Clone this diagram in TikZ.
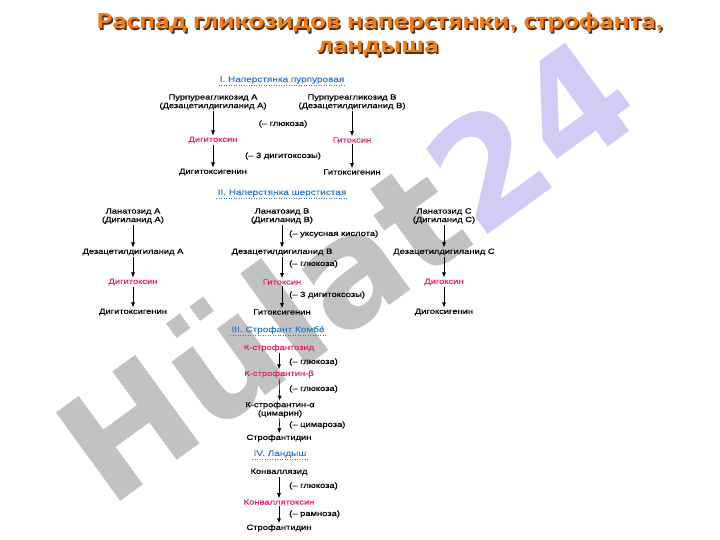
\documentclass[tikz,border=0pt]{standalone}
\usepackage{fontspec}
\setmainfont{Liberation Sans}
\newfontfamily\df{Liberation Sans}[FakeStretch=1.25,FakeBold=0.5]
\newfontfamily\tf{Carlito}[FakeStretch=1.28]
\newfontfamily\wf{DejaVu Sans}
\usetikzlibrary{arrows.meta}
\definecolor{glred}{HTML}{E0245E}
\definecolor{glblue}{HTML}{2C7BD0}
\definecolor{ttorange}{HTML}{F07D1A}
\definecolor{ttshadow}{HTML}{5A2E08}
\definecolor{wmgrey}{HTML}{C2C2C2}
\definecolor{wmpurple}{HTML}{D2CBF5}
\tikzset{
  txt/.style={font=\df\fontsize{7.5}{8.5}\selectfont, inner sep=1pt, align=center},
  redtxt/.style={txt, text=glred},
  lbl/.style={txt, anchor=west},
  hd/.style={font=\df\fontsize{8}{9}\selectfont, text=glblue, inner sep=1pt},
  uline/.style={glblue, dotted, line width=0.5pt},
  arr/.style={-{Latex[length=5pt,width=4pt]}, line width=0.6pt},
  ttl/.style={font=\tf\bfseries\fontsize{23}{26}\selectfont, inner sep=0pt},
}
\begin{document}
\begin{tikzpicture}[x=1pt,y=-1pt]
\useasboundingbox (0,0) rectangle (720,540);
\fill[white] (0,0) rectangle (720,540);
% watermark
\node[rotate=36, font=\wf\bfseries\fontsize{150}{150}\selectfont, inner sep=0pt] (wm) at (345,268) {\textcolor{wmgrey}{Hülat}\textcolor{wmpurple}{24}};
% title
\node[ttl, text=ttshadow] (t1s) at (381.5,24.5) {Распад гликозидов наперстянки, строфанта,};
\node[ttl, text=ttshadow] (t2s) at (379.5,50.5) {ландыша};
\node[ttl, text=ttorange] (t1) at (380,23) {Распад гликозидов наперстянки, строфанта,};
\node[ttl, text=ttorange] (t2) at (378,49) {ландыша};
% Section I
\node[hd] (h1) at (282,80) {I. Наперстянка пурпуровая};
\draw[uline] (h1.south west) -- (h1.south east);
\node[txt] (pA) at (213,102) {Пурпуреагликозид А\\(Дезацетилдигиланид А)};
\node[txt] (pB) at (352,102) {Пурпуреагликозид В\\(Дезацетилдигиланид В)};
\node[redtxt] (dtA) at (213,140) {Дигитоксин};
\node[redtxt] (gtB) at (352,140) {Гитоксин};
\node[txt] (dgA) at (213,172) {Дигитоксигенин};
\node[txt] (ggB) at (352,172) {Гитоксигенин};
\node[txt] (l1) at (283,124) {(– глюкоза)};
\node[txt] (l2) at (283,156) {(– 3 дигитоксозы)};
\draw[arr] (pA) -- (dtA);
\draw[arr] (dtA) -- (dgA);
\draw[arr] (pB) -- (gtB);
\draw[arr] (gtB) -- (ggB);
% Section II
\node[hd] (h2) at (282,193) {II. Наперстянка шерстистая};
\draw[uline] (h2.south west) -- (h2.south east);
\node[txt] (laA) at (133,216) {Ланатозид А\\(Дигиланид А)};
\node[txt] (laB) at (282,216) {Ланатозид В\\(Дигиланид В)};
\node[txt] (laC) at (444,216) {Ланатозид С\\(Дигиланид С)};
\node[txt] (daA) at (133,252) {Дезацетилдигиланид А};
\node[txt] (daB) at (282,252) {Дезацетилдигиланид В};
\node[txt] (daC) at (444,252) {Дезацетилдигиланид С};
\node[redtxt] (rA) at (133,282) {Дигитоксин};
\node[redtxt] (rB) at (282,282) {Гитоксин};
\node[redtxt] (rC) at (444,282) {Дигоксин};
\node[txt] (gA) at (133,312) {Дигитоксигенин};
\node[txt] (gB) at (282,312) {Гитоксигенин};
\node[txt] (gC) at (444,312) {Дигоксигенин};
\foreach \c in {A,B,C}{
  \draw[arr] (la\c) -- (da\c);
  \draw[arr] (da\c) -- (r\c);
  \draw[arr] (r\c) -- (g\c);
}
\node[lbl] (l3) at (288,234) {(– уксусная кислота)};
\node[lbl] (l4) at (288,264) {(– глюкоза)};
\node[lbl] (l5) at (288,295) {(– 3 дигитоксозы)};
% Section III
\node[hd] (h3) at (278,330) {III. Строфант Комбé};
\draw[uline] (h3.south west) -- (h3.south east);
\node[redtxt] (ks1) at (279,348) {К-строфантозид};
\node[redtxt] (ks2) at (279,374) {К-строфантин-β};
\node[txt] (ks3) at (280,409.5) {К-строфантин-α\\(цимарин)};
\node[txt] (st1) at (279,438) {Строфантидин};
\draw[arr] (ks1) -- (ks2);
\draw[arr] (ks2) -- (ks3);
\draw[arr] (ks3) -- (st1);
\node[lbl] (l6) at (288,362) {(– глюкоза)};
\node[lbl] (l7) at (288,389) {(– глюкоза)};
\node[lbl] (l8) at (288,425) {(– цимароза)};
% Section IV
\node[hd] (h4) at (280,454) {IV. Ландыш};
\draw[uline] (h4.south west) -- (h4.south east);
\node[txt] (kv1) at (279,472) {Конваллязид};
\node[redtxt] (kv2) at (279,502) {Конваллятоксин};
\node[txt] (st2) at (279,528) {Строфантидин};
\draw[arr] (kv1) -- (kv2);
\draw[arr] (kv2) -- (st2);
\node[lbl] (l9) at (288,486) {(– глюкоза)};
\node[lbl] (l10) at (288,514) {(– рамноза)};
\end{tikzpicture}
\end{document}
